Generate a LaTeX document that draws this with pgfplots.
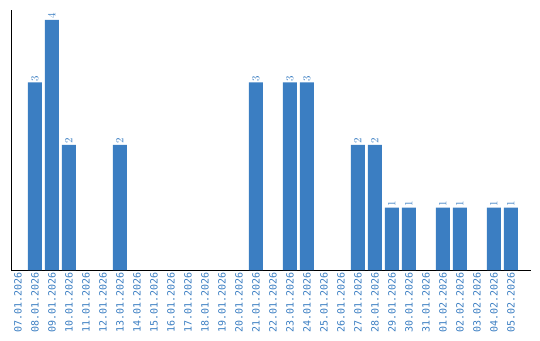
\documentclass[border=0pt]{standalone}
\usepackage{fontspec}
\setmonofont{DejaVu Sans Mono}
\usepackage{pgfplots}
\pgfplotsset{compat=1.18}
\definecolor{barblue}{HTML}{3B7EC2}
\begin{document}
\begin{tikzpicture}
\begin{axis}[
  scale only axis, width=520pt, height=260pt,
  at={(0,0)}, anchor=south west,
  ybar, bar width=14pt,
  xmin=-0.41, xmax=30.18, ymin=0, ymax=4.16,
  axis x line=bottom, axis y line=left,
  axis line style={-, black, line width=1pt},
  xtick={0,...,29}, major tick length=0pt, ytick=\empty,
  xticklabels={07.01.2026,08.01.2026,09.01.2026,10.01.2026,11.01.2026,12.01.2026,13.01.2026,14.01.2026,15.01.2026,16.01.2026,17.01.2026,18.01.2026,19.01.2026,20.01.2026,21.01.2026,22.01.2026,23.01.2026,24.01.2026,25.01.2026,26.01.2026,27.01.2026,28.01.2026,29.01.2026,30.01.2026,31.01.2026,01.02.2026,02.02.2026,03.02.2026,04.02.2026,05.02.2026},
  xticklabel style={rotate=90, anchor=east, font=\ttfamily\fontsize{10}{12}\selectfont, text=barblue, inner sep=2pt},
  nodes near coords={\pgfmathprintnumber{\pgfplotspointmeta}},
  every node near coord/.append style={rotate=90, anchor=west, font=\ttfamily\fontsize{11}{13}\selectfont, text=barblue, inner sep=1pt},
  clip=false,
]
\addplot[fill=barblue, draw=none] coordinates {
(1,3)(2,4)(3,2)(6,2)(14,3)(16,3)(17,3)(20,2)(21,2)(22,1)(23,1)(25,1)(26,1)(28,1)(29,1)
};
\end{axis}
\pgfresetboundingbox
\path[use as bounding box] (-11pt,-70pt) rectangle (529pt,270pt);
\end{tikzpicture}
\end{document}
